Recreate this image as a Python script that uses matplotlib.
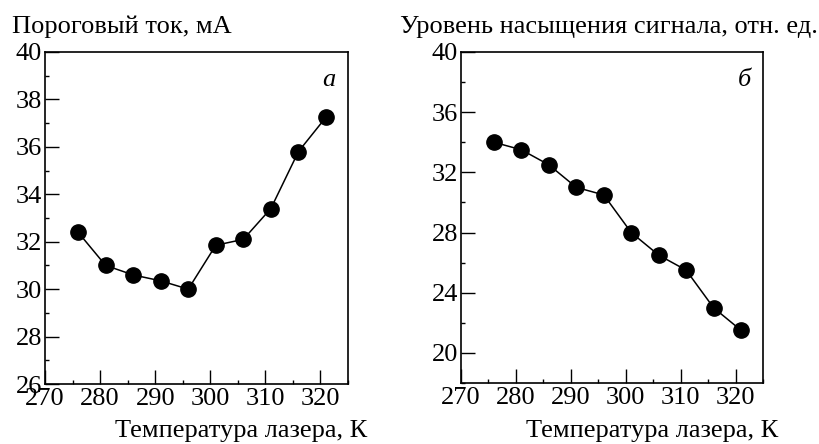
import matplotlib
matplotlib.use("Agg")
import matplotlib.pyplot as plt
from matplotlib.ticker import MultipleLocator

plt.rcParams["font.family"] = ["Liberation Serif", "DejaVu Serif"]

# ── данные ──────────────────────────────────────────────
temp = [276, 281, 286, 291, 296, 301, 306, 311, 316, 321]
porog = [32.4, 31.0, 30.6, 30.35, 30.0, 31.85, 32.1, 33.4, 35.8, 37.25]
nasysh = [34.0, 33.5, 32.5, 31.0, 30.5, 28.0, 26.5, 25.5, 23.0, 21.5]

ylabel_a = "Пороговый ток, мА"
ylabel_b = "Уровень насыщения сигнала, отн. ед."
xlabel = "Температура лазера, К"

FS = 19

fig = plt.figure(figsize=(8.2, 4.44), dpi=100)
ax_a = fig.add_axes([0.0549, 0.1351, 0.3695, 0.7478])
ax_b = fig.add_axes([0.5622, 0.1374, 0.3683, 0.7455])


def oformit(ax, ylim, ymaj, ymin):
    ax.set_xlim(270, 325)
    ax.set_ylim(*ylim)
    ax.xaxis.set_major_locator(MultipleLocator(10))
    ax.xaxis.set_minor_locator(MultipleLocator(5))
    ax.yaxis.set_major_locator(MultipleLocator(ymaj))
    ax.yaxis.set_minor_locator(MultipleLocator(ymin))
    ax.set_xticks(range(270, 321, 10))
    ax.tick_params(which="major", direction="in", length=10, width=1,
                   labelsize=FS, pad=2, top=False, right=False)
    ax.tick_params(axis="x", which="major", pad=3)
    ax.tick_params(which="minor", direction="in", length=3, width=1,
                   top=False, right=False)
    for s in ax.spines.values():
        s.set_linewidth(1.2)


for ax, y in ((ax_a, porog), (ax_b, nasysh)):
    ax.plot(temp, y, color="black", lw=1.1, marker="o", ms=11,
            markerfacecolor="black", markeredgecolor="black")

oformit(ax_a, (26, 40), 2, 1)
oformit(ax_b, (18, 40), 4, 2)

ax_a.text(0.96, 0.95, "а", transform=ax_a.transAxes, fontsize=FS,
          style="italic", ha="right", va="top")
ax_b.text(0.96, 0.95, "б", transform=ax_b.transAxes, fontsize=FS,
          style="italic", ha="right", va="top")

fig.text(12 / 820, 1 - 33 / 444, ylabel_a, fontsize=FS, ha="left", va="baseline")
fig.text(400 / 820, 1 - 33 / 444, ylabel_b, fontsize=FS, ha="left", va="baseline")
fig.text(367 / 820, 1 - 437 / 444, xlabel, fontsize=FS, ha="right", va="baseline")
fig.text(778 / 820, 1 - 437 / 444, xlabel, fontsize=FS, ha="right", va="baseline")

fig.savefig("out.png", dpi=100)
